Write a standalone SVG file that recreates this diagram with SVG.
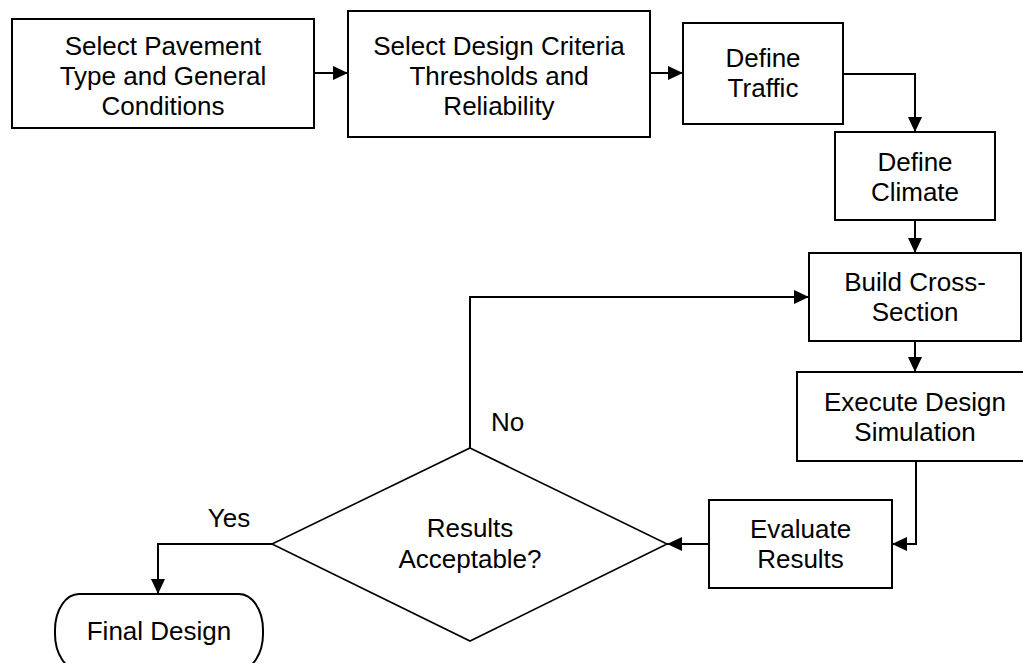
<svg xmlns="http://www.w3.org/2000/svg" width="1023" height="663" viewBox="0 0 1023 663">
<style>
.box{fill:#fff;stroke:#000;stroke-width:2}
.dia{fill:#fff;stroke:#000;stroke-width:1.6}
.t{font-family:"Liberation Sans",Arial,sans-serif;font-size:26px;fill:#000;text-anchor:middle}
.lbl{font-family:"Liberation Sans",Arial,sans-serif;font-size:26px;fill:#000}
.c{fill:none;stroke:#000;stroke-width:2}
</style>
<defs>
<marker id="ah" markerUnits="userSpaceOnUse" markerWidth="15" markerHeight="14" refX="15" refY="7" orient="auto">
<path d="M0,0 L15,7 L0,14 z" fill="#000"/>
</marker>
</defs>
<rect width="1023" height="663" fill="#fff"/>
<g id="connectors">
<path class="c" d="M314,73 H348" marker-end="url(#ah)"/>
<path class="c" d="M650,73 H683" marker-end="url(#ah)"/>
<path class="c" d="M843,74 H915 V132" marker-end="url(#ah)"/>
<path class="c" d="M915,220 V253" marker-end="url(#ah)"/>
<path class="c" d="M915,341 V372" marker-end="url(#ah)"/>
<path class="c" d="M916,461 V544 H892" marker-end="url(#ah)"/>
<path class="c" d="M709,544 H667" marker-end="url(#ah)"/>
<path class="c" d="M470,448 V297 H809" marker-end="url(#ah)"/>
<path class="c" d="M272,544 H158 V594" marker-end="url(#ah)"/>
<text class="lbl" x="491" y="431">No</text>
<text class="t" x="229" y="527">Yes</text>
</g>
<g id="n1">
<rect class="box" x="12" y="19" width="302" height="109"/>
<text class="t" x="163" y="55">Select Pavement</text>
<text class="t" x="163" y="85">Type and General</text>
<text class="t" x="163" y="115">Conditions</text>
</g>
<g id="n2">
<rect class="box" x="348" y="11" width="302" height="126"/>
<text class="t" x="499" y="55">Select Design Criteria</text>
<text class="t" x="499" y="85">Thresholds and</text>
<text class="t" x="499" y="115">Reliability</text>
</g>
<g id="n3">
<rect class="box" x="683" y="23" width="160" height="101"/>
<text class="t" x="763" y="67">Define</text>
<text class="t" x="763" y="97">Traffic</text>
</g>
<g id="n4">
<rect class="box" x="835" y="132" width="160" height="88"/>
<text class="t" x="915" y="171">Define</text>
<text class="t" x="915" y="201">Climate</text>
</g>
<g id="n5">
<rect class="box" x="809" y="253" width="212" height="88"/>
<text class="t" x="915" y="291">Build Cross-</text>
<text class="t" x="915" y="321">Section</text>
</g>
<g id="n6">
<rect class="box" x="797" y="372" width="240" height="89"/>
<text class="t" x="915" y="411">Execute Design</text>
<text class="t" x="915" y="441">Simulation</text>
</g>
<g id="n7">
<rect class="box" x="709" y="500" width="183" height="88"/>
<text class="t" x="800.5" y="538">Evaluate</text>
<text class="t" x="800.5" y="568">Results</text>
</g>
<g id="n8">
<polygon class="dia" points="470,448 667,544 470,641 272,544"/>
<text class="t" x="470" y="537">Results</text>
<text class="t" x="470" y="568">Acceptable?</text>
</g>
<g id="n9">
<rect class="box" x="55" y="594" width="208" height="76" rx="24" ry="36"/>
<text class="t" x="159" y="640">Final Design</text>
</g>
</svg>
